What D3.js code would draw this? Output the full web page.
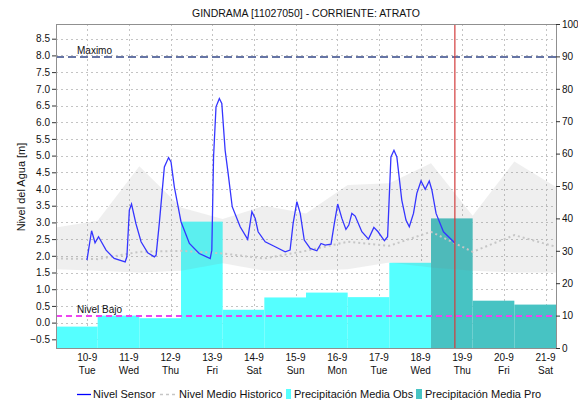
<!DOCTYPE html>
<html>
<head>
<meta charset="utf-8">
<script src="https://cdn.jsdelivr.net/npm/d3@7"></script>
<style>
  body { margin: 0; background: #fff; }
  text { font-family: "Liberation Sans", Arial, sans-serif; fill: #111; }
</style>
</head>
<body>
<div id="chart"></div>
<script>

///////////////////////////////////////////////////////////////////////////
//////////////////////////////// Data /////////////////////////////////////
///////////////////////////////////////////////////////////////////////////

var title = "GINDRAMA [11027050] - CORRIENTE: ATRATO";

//Nivel sensor (m), time as "day hh:mm" in sept 2019
var sensorTime = ["09 23:50","10 02:30","10 04:30","10 06:30","10 10:50","10 15:30","10 21:50","10 22:50",
  "11 00:15","11 01:30","11 04:00","11 07:00","11 10:50","11 14:40","11 15:40","11 17:30","11 20:25","11 22:50",
  "12 00:15","12 02:10","12 06:00","12 10:50","12 16:30","12 22:50","12 23:45",
  "13 00:45","13 02:10","13 04:05","13 05:30","13 07:25","13 09:10","13 11:30","13 16:05","13 20:25","13 22:50",
  "14 00:45","14 02:25","14 06:30","14 12:15","14 18:00","14 20:50","14 22:35",
  "15 00:45","15 02:40","15 05:00","15 08:25","15 12:15","15 14:40","15 17:00","15 20:25","15 22:20",
  "16 00:15","16 02:40","16 05:00","16 06:40","16 08:25","16 10:20","16 14:10","16 18:00","16 21:05","16 23:30",
  "17 03:10","17 05:00","17 06:55","17 08:40","17 10:20","17 13:10","17 15:35","17 17:30","17 19:55","17 21:50",
  "18 00:15","18 02:40","18 05:00","18 06:30","18 08:55","18 13:10","18 19:00","18 19:40"];
var sensorValue = [1.87,2.75,2.39,2.57,2.17,1.92,1.82,1.97,
  3.37,3.55,2.97,2.42,2.09,1.97,2.02,2.97,4.66,4.94,
  4.81,4.06,3.02,2.37,2.07,1.92,2.17,
  4.96,6.46,6.71,6.56,5.16,4.46,3.47,2.87,2.49,3.32,
  3.12,2.72,2.42,2.27,2.12,2.17,2.97,
  3.62,3.27,2.47,2.22,2.15,2.37,2.32,2.35,2.97,
  3.55,3.12,2.79,2.92,3.27,3.19,2.72,2.50,2.85,2.72,
  2.45,2.57,4.96,5.16,4.96,3.67,3.07,2.87,3.27,3.87,
  4.24,3.99,4.24,3.97,3.27,2.72,2.42,2.37];

//Historic level (m), one value per day at 06:00
var histTime = ["09 06:00","10 06:00","11 06:00","12 06:00","13 06:00","14 06:00","15 06:00",
  "16 06:00","17 06:00","18 06:00","19 06:00","20 06:00","21 06:00"];
var histMean = [1.92,1.90,2.12,2.15,2.07,1.92,2.15,2.42,2.30,2.72,2.12,2.62,2.27];
var histHigh = [2.85,3.05,4.68,3.45,3.10,3.50,3.27,4.12,4.17,4.77,3.20,4.82,4.06];
var histLow  = [1.60,1.55,1.50,1.55,1.78,1.55,1.55,1.60,1.80,1.65,1.55,1.50,1.50];

//Daily precipitation (right axis), bars start at 06:00
var precipObsStart = ["09 06:00","10 06:00","11 06:00","12 06:00","13 06:00","14 06:00","15 06:00","16 06:00","17 06:00"];
var precipObs = [6.6,10.0,9.2,39.0,11.8,15.6,17.1,15.7,26.3];
var precipProStart = ["18 06:00","19 06:00","20 06:00"];
var precipPro = [40.0,14.6,13.4];

var nivelMaximo = 7.95;
var nivelBajo = 0.2;
var nowTime = "18 19:45";

var leftTicks = [-0.5,0,0.5,1,1.5,2,2.5,3,3.5,4,4.5,5,5.5,6,6.5,7,7.5,8,8.5];
var rightTicks = [0,10,20,30,40,50,60,70,80,90,100];

///////////////////////////////////////////////////////////////////////////
///////////////////////////// Scales and SVG //////////////////////////////
///////////////////////////////////////////////////////////////////////////

var parse = d3.timeParse("%Y-%m-%d %H:%M");
function t(s) { return parse("2019-09-" + s); }

var width = 578, height = 403;
var plot = {left: 56, right: 556, top: 24, bottom: 348};

var x = d3.scaleTime()
    .domain([t("09 06:00"), t("21 06:00")])
    .range([plot.left, plot.right]);
var y = d3.scaleLinear().domain([-0.76, 8.94]).range([plot.bottom, plot.top]);
var y2 = d3.scaleLinear().domain([0, 100]).range([plot.bottom, plot.top]);

var svg = d3.select("#chart").append("svg")
    .attr("width", width)
    .attr("height", height);

//Title
svg.append("text")
    .attr("x", 306).attr("y", 17)
    .attr("text-anchor", "middle")
    .style("font-size", "10.5px")
    .text(title);

var dayTicks = d3.timeDay.range(t("10 00:00"), t("21 12:00"));

//Grid
var grid = svg.append("g");
grid.selectAll(".hg").data(leftTicks).enter().append("line")
    .attr("x1", plot.left).attr("x2", plot.right)
    .attr("y1", function (d) { return Math.round(y(d)) + 0.5; })
    .attr("y2", function (d) { return Math.round(y(d)) + 0.5; })
    .attr("stroke", "#c4c4c4").attr("stroke-dasharray", "2,3");
grid.selectAll(".vg").data(dayTicks).enter().append("line")
    .attr("x1", function (d) { return Math.round(x(d)) + 0.5; })
    .attr("x2", function (d) { return Math.round(x(d)) + 0.5; })
    .attr("y1", plot.top).attr("y2", plot.bottom)
    .attr("stroke", "#c4c4c4").attr("stroke-dasharray", "2,3");

///////////////////////////////////////////////////////////////////////////
///////////////////////////////// Bars ////////////////////////////////////
///////////////////////////////////////////////////////////////////////////

function drawBars(starts, vals, col) {
  svg.append("g").selectAll("rect")
    .data(vals).enter().append("rect")
    .attr("x", function (d, i) { return x(t(starts[i])); })
    .attr("width", function (d, i) { return x(d3.timeDay.offset(t(starts[i]), 1)) - x(t(starts[i])); })
    .attr("y", function (d) { return y2(d); })
    .attr("height", function (d) { return y2(0) - y2(d); })
    .style("fill", col);
}
drawBars(precipObsStart, precipObs, "#55ffff");
drawBars(precipProStart, precipPro, "#47c3c3");

//Historic band
var band = d3.area()
    .x(function (d, i) { return x(t(histTime[i])); })
    .y0(function (d, i) { return y(histLow[i]); })
    .y1(function (d, i) { return y(histHigh[i]); });
svg.append("path")
    .attr("d", band(histTime))
    .style("fill", "rgb(128,128,128)")
    .style("fill-opacity", 0.13);

//Historic mean (dotted)
var histLine = d3.line()
    .x(function (d, i) { return x(t(histTime[i])); })
    .y(function (d, i) { return y(histMean[i]); });
svg.append("path")
    .attr("d", histLine(histTime))
    .attr("fill", "none")
    .attr("stroke", "#c6c6c6")
    .attr("stroke-width", 2)
    .attr("stroke-dasharray", "2,3");

//Threshold lines
svg.append("line")
    .attr("x1", plot.left).attr("x2", plot.right)
    .attr("y1", y(nivelMaximo)).attr("y2", y(nivelMaximo))
    .attr("stroke", "#6675a5").attr("stroke-width", 2).attr("stroke-dasharray", "8,4");
svg.append("text").attr("x", 77).attr("y", y(nivelMaximo) - 3)
    .style("font-size", "10px").text("Maximo");

svg.append("line")
    .attr("x1", plot.left).attr("x2", plot.right)
    .attr("y1", y(nivelBajo)).attr("y2", y(nivelBajo))
    .attr("stroke", "#ee44ee").attr("stroke-width", 2).attr("stroke-dasharray", "6,4");
svg.append("text").attr("x", 77).attr("y", y(nivelBajo) - 3)
    .style("font-size", "10px").text("Nivel Bajo");

//Sensor line
var sensorLine = d3.line()
    .x(function (d, i) { return x(t(sensorTime[i])); })
    .y(function (d, i) { return y(sensorValue[i]); });
svg.append("path")
    .attr("d", sensorLine(sensorTime))
    .attr("fill", "none")
    .attr("stroke", "#3535ff")
    .attr("stroke-width", 1.3);

//Now line
var nowX = x(t(nowTime));
svg.append("line")
    .attr("class", "now")
    .attr("x1", nowX).attr("x2", nowX)
    .attr("y1", plot.top).attr("y2", plot.bottom)
    .style("stroke", "#d23c3c")
    .style("stroke-width", 1.2);

///////////////////////////////////////////////////////////////////////////
///////////////////////////////// Axes ////////////////////////////////////
///////////////////////////////////////////////////////////////////////////

//frame
svg.append("rect")
    .attr("x", plot.left + 0.5).attr("y", plot.top + 0.5)
    .attr("width", plot.right - plot.left).attr("height", plot.bottom - plot.top)
    .attr("fill", "none").attr("stroke", "#909090");

var yAxis = svg.append("g")
    .attr("transform", "translate(" + plot.left + ",0)")
    .call(d3.axisLeft(y).tickValues(leftTicks).tickFormat(d3.format(".1f")).tickSize(4).tickSizeOuter(0));
var y2Axis = svg.append("g")
    .attr("transform", "translate(" + plot.right + ",0)")
    .call(d3.axisRight(y2).tickValues(rightTicks).tickSize(4).tickSizeOuter(0));
[yAxis, y2Axis].forEach(function (a) {
  a.select(".domain").attr("stroke", "#909090");
  a.selectAll(".tick line").attr("stroke", "#333");
  a.selectAll(".tick text").style("font-family", "Liberation Sans, Arial, sans-serif")
    .style("font-size", "10px").attr("fill", "#111");
});
yAxis.selectAll(".tick text").attr("x", -6);
y2Axis.selectAll(".tick text").attr("x", 6);

svg.append("text")
    .attr("transform", "translate(25,187) rotate(-90)")
    .attr("text-anchor", "middle")
    .style("font-size", "11px")
    .text("Nivel del Agua [m]");

//x labels, two lines
var fmtDay = d3.timeFormat("%-d-%-m"), fmtWd = d3.timeFormat("%a");
var xl = svg.append("g").selectAll("text").data(dayTicks).enter().append("text")
    .attr("x", function (d) { return x(d); })
    .attr("text-anchor", "middle")
    .style("font-size", "10px");
xl.append("tspan").attr("x", function (d) { return x(d); }).attr("y", 361).text(fmtDay);
xl.append("tspan").attr("x", function (d) { return x(d); }).attr("y", 374).text(fmtWd);

///////////////////////////////////////////////////////////////////////////
//////////////////////////////// Legend ///////////////////////////////////
///////////////////////////////////////////////////////////////////////////

var lg = svg.append("g").style("font-size", "11px");
lg.append("line").attr("x1", 77).attr("x2", 91).attr("y1", 394.5).attr("y2", 394.5)
    .attr("stroke", "#0000ff").attr("stroke-width", 1.3);
lg.append("text").attr("x", 93).attr("y", 398).text("Nivel Sensor");
lg.append("line").attr("x1", 160).attr("x2", 176).attr("y1", 394.5).attr("y2", 394.5)
    .attr("stroke", "#c6c6c6").attr("stroke-width", 1.3).attr("stroke-dasharray", "3,3");
lg.append("text").attr("x", 179).attr("y", 398).text("Nivel Medio Historico");
lg.append("rect").attr("x", 286).attr("y", 389).attr("width", 5).attr("height", 10).attr("fill", "#55ffff");
lg.append("text").attr("x", 294).attr("y", 398).text("Precipitación Media Obs");
lg.append("rect").attr("x", 416).attr("y", 389).attr("width", 6).attr("height", 10).attr("fill", "#47c3c3");
lg.append("text").attr("x", 425).attr("y", 398).text("Precipitación Media Pro");

</script>
</body>
</html>
